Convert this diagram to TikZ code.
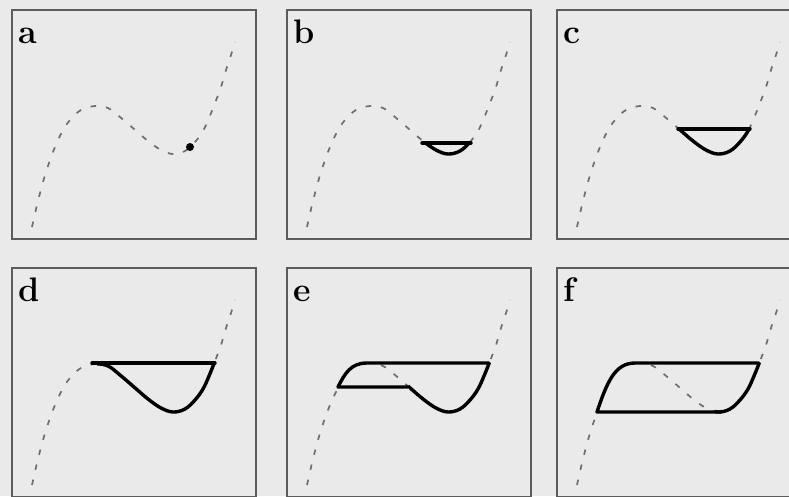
\documentclass[tikz,border=0pt]{standalone}
\usetikzlibrary{positioning}
\definecolor{paper}{HTML}{EAEAEA}
\definecolor{frame}{HTML}{5C5C5C}
\definecolor{branch}{HTML}{6E6E6E}
% the cubic nullcline, in pixel units of one panel
\newcommand{\nullcline}{plot[smooth, tension=0.6] coordinates {(32,227) (37,205) (43,182) (49,163) (55,147) (62,132) (70,120) (81,110) (95,106) (108,108) (120,117) (134,129) (148,141) (161,150) (173,154) (185,151) (195,142) (203,131) (209,118) (215,103) (221,87) (226,70) (231,55) (235,42)}}

\begin{document}
\begin{tikzpicture}[
    x=1pt, y=-1pt,
    panel/.style={draw=frame, line width=1.6pt},
    lbl/.style={anchor=base west, inner sep=0pt, font=\fontsize{34}{34}\selectfont\bfseries},
    branchline/.style={draw=branch, line width=1.7pt, dash pattern=on 5.5pt off 10pt},
    hideline/.style={draw=paper, line width=4pt},
    loopline/.style={draw=black, line width=3.4pt, line cap=round, line join=round},
    fixpt/.style={circle, fill=black, minimum size=8pt, inner sep=0pt},
  ]
  \clip (0,0) rectangle (789,496);
  \fill[paper] (0,0) rectangle (789,496);
  % ------------------------------------------------------------------ six panels: frame, letter, dashed nullcline
  \foreach \lab/\dx/\dy in {a/0/0, b/275/0, c/545/0, d/0/258, e/275/258, f/545/258} {
    \begin{scope}[shift={(\dx,\dy)}]
      \draw[panel] (12,10) rectangle (256,239);
      \node[lbl] (\lab) at (18,43) {\lab};
      \draw[branchline] \nullcline;
    \end{scope}
  }
  % ------------------------------------------------------------------ (a) rest point on the middle branch
  \node[fixpt] (rest) at (190,147) {};
  % ------------------------------------------------------------------ (b) a small loop round the minimum
  \begin{scope}[shift={(275,0)}]
    \begin{scope}
      \clip (146,143) rectangle (198,175);
      \draw[loopline] \nullcline;
    \end{scope}
    \draw[loopline] (147,143) -- (196,143);
  \end{scope}
  % ------------------------------------------------------------------ (c) the loop grows
  \begin{scope}[shift={(545,0)}]
    \begin{scope}
      \clip (131,129) rectangle (207,175);
      \draw[loopline] \nullcline;
    \end{scope}
    \draw[loopline] (133,129) -- (205,129);
  \end{scope}
  % ------------------------------------------------------------------ (d) up to the maximum
  \begin{scope}[shift={(0,258)}]
    \begin{scope}
      \clip (97,105) rectangle (217,175);
      \draw[loopline] \nullcline;
    \end{scope}
    \draw[loopline] (92,105) -- (215,105);
  \end{scope}
  % ------------------------------------------------------------------ (e) jump onto the left branch
  \begin{scope}[shift={(275,258)}]
    \begin{scope}
      \clip (58,100) rectangle (104,131);
      \draw[hideline] \nullcline;
    \end{scope}
    \begin{scope}
      \clip (134,105) rectangle (217,175);
      \draw[loopline] \nullcline;
    \end{scope}
    \draw[loopline] (134,129) -- (63,129) .. controls (70,115) and (76,105) .. (92,105) -- (214,105);
  \end{scope}
  % ------------------------------------------------------------------ (f) full relaxation loop
  \begin{scope}[shift={(545,258)}]
    \begin{scope}
      \clip (48,100) rectangle (104,156);
      \draw[hideline] \nullcline;
    \end{scope}
    \begin{scope}
      \clip (170,105) rectangle (218,160);
      \draw[loopline] \nullcline;
    \end{scope}
    \draw[loopline] (176,154) -- (52,154) .. controls (62,124) and (70,105) .. (90,105) -- (214,105);
  \end{scope}
\end{tikzpicture}
\end{document}
